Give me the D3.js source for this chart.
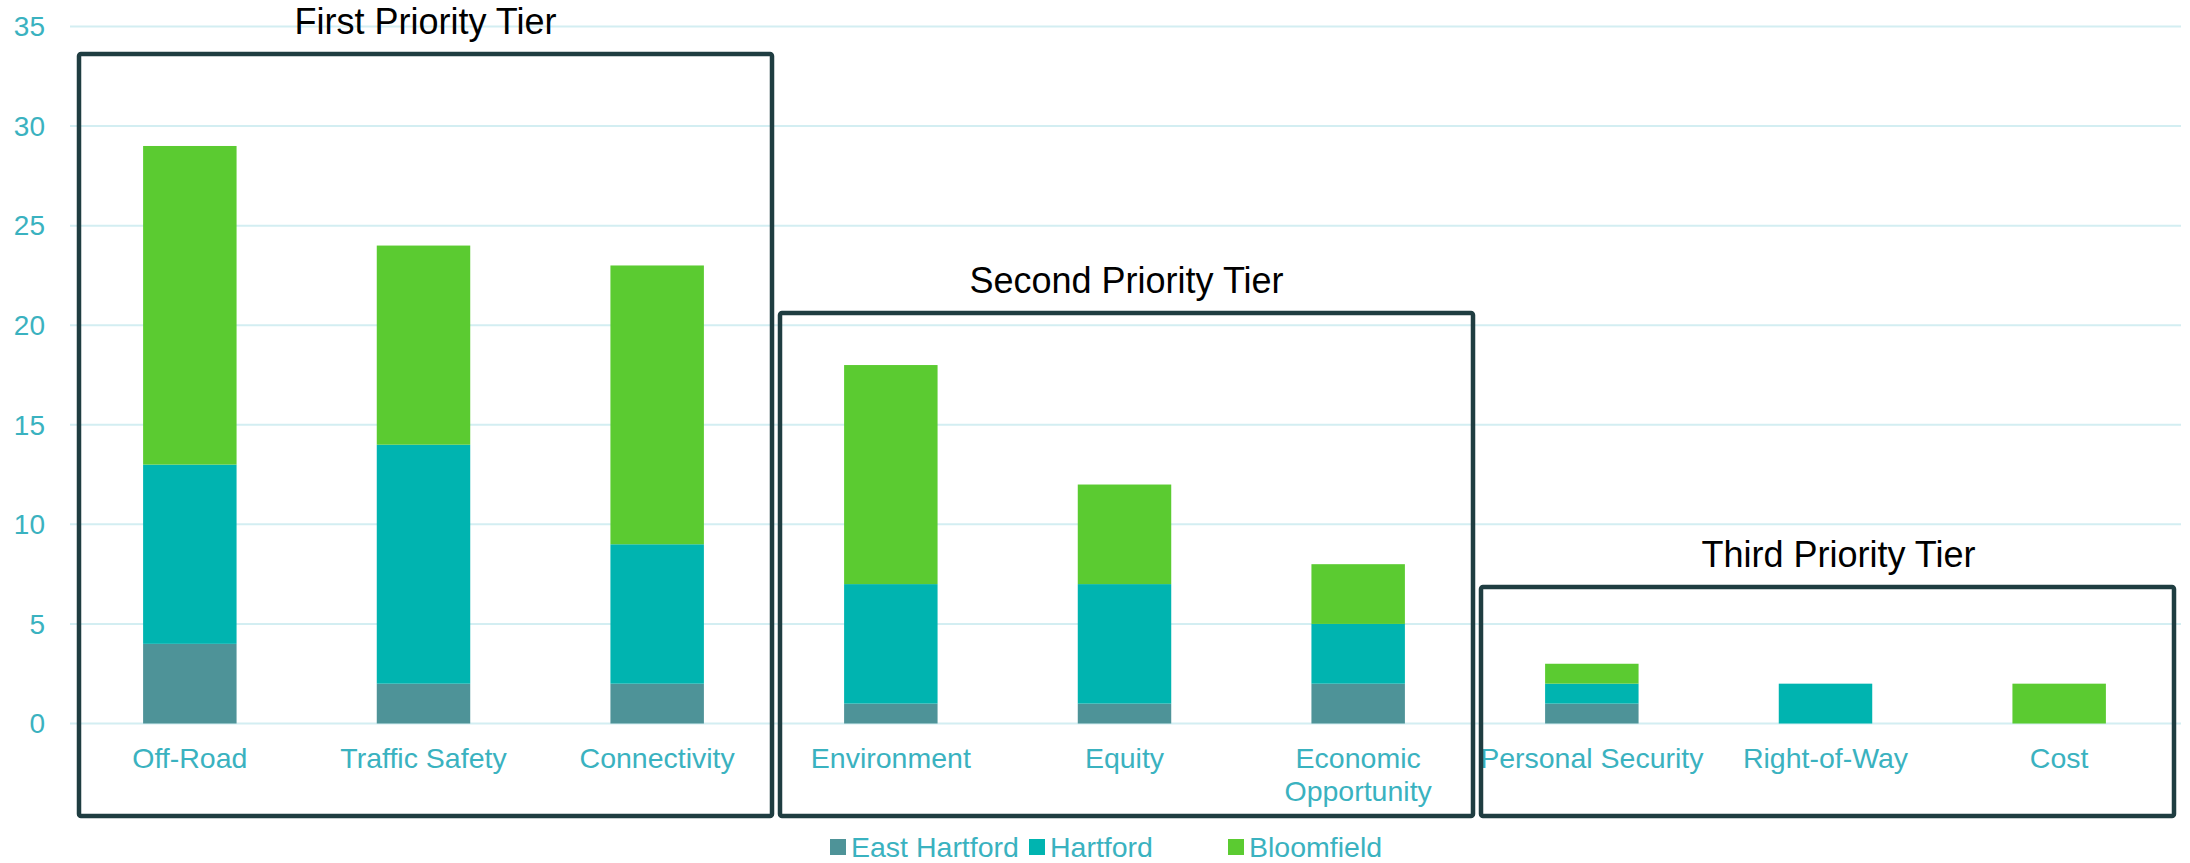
<!DOCTYPE html>
<html>
<head>
<meta charset="utf-8">
<script src="https://cdn.jsdelivr.net/npm/d3@7"></script>
<style>
  html, body { margin: 0; padding: 0; background: #fff; }
  svg { display: block; font-family: "Liberation Sans", Arial, sans-serif; }
</style>
</head>
<body>
<div id="chart"></div>
<script>
// Chart values
var categories = ["Off-Road", "Traffic Safety", "Connectivity", "Environment", "Equity",
  "Economic Opportunity", "Personal Security", "Right-of-Way", "Cost"];
var seriesNames = ["East Hartford", "Hartford", "Bloomfield"];
var eastHartford = [4, 2, 2, 1, 1, 2, 1, 0, 0];
var hartford = [9, 12, 7, 6, 6, 3, 1, 2, 0];
var bloomfield = [16, 10, 14, 11, 5, 3, 1, 0, 2];
var yTicks = [0, 5, 10, 15, 20, 25, 30, 35];
var tierNames = ["First Priority Tier", "Second Priority Tier", "Third Priority Tier"];
var tierCategories = [
  ["Off-Road", "Traffic Safety", "Connectivity"],
  ["Environment", "Equity", "Economic Opportunity"],
  ["Personal Security", "Right-of-Way", "Cost"]
];

var colors = ["#4e9398", "#00b4b0", "#5bcb31"];
var textColor = "#3ab2c0";
var boxColor = "#1f3d41";

var width = 2190, height = 863;
var tierBoxTop = [54, 313, 587], tierBoxBottom = 816;
var tierTitleShift = [2, 2, 13]; // titles are not quite centred over their boxes

var svg = d3.select("#chart").append("svg")
    .attr("width", width)
    .attr("height", height);

var x = d3.scaleBand()
    .domain(categories)
    .range([73, 2176])
    .paddingInner(0.6)
    .paddingOuter(0.3);

var y = d3.scaleLinear()
    .domain([0, 35])
    .range([723.5, 26.5]);

// Gridlines and y labels
svg.append("g").selectAll("line")
    .data(yTicks)
  .enter().append("line")
    .attr("x1", 70)
    .attr("x2", 2181)
    .attr("y1", d => y(d))
    .attr("y2", d => y(d))
    .attr("stroke", "#d3eef2")
    .attr("stroke-width", 2);

svg.append("g").selectAll("text")
    .data(yTicks)
  .enter().append("text")
    .attr("x", 45)
    .attr("y", d => y(d))
    .attr("dy", "0.35em")
    .attr("text-anchor", "end")
    .attr("fill", textColor)
    .style("font-size", "28px")
    .text(d => d);

// Stack the three towns
var rows = categories.map((c, i) => ({
  category: c,
  "East Hartford": eastHartford[i],
  "Hartford": hartford[i],
  "Bloomfield": bloomfield[i]
}));
var stacked = d3.stack().keys(seriesNames)(rows);

svg.append("g").selectAll("g")
    .data(stacked)
  .enter().append("g")
    .attr("fill", (d, i) => colors[i])
  .selectAll("rect")
    .data(d => d.filter(s => s[1] > s[0]))
  .enter().append("rect")
    .attr("x", d => x(d.data.category))
    .attr("width", x.bandwidth())
    .attr("y", d => y(d[1]))
    .attr("height", d => y(d[0]) - y(d[1]));

// Category labels, wrapped onto two lines where needed
var labelLines = {"Economic Opportunity": ["Economic", "Opportunity"]};
svg.append("g").selectAll("text")
    .data(categories)
  .enter().append("text")
    .attr("x", d => x(d) + x.bandwidth() / 2)
    .attr("y", 768)
    .attr("text-anchor", "middle")
    .attr("fill", textColor)
    .style("font-size", "28.5px")
    .each(function(d) {
      var lines = labelLines[d] || [d];
      d3.select(this).selectAll("tspan")
          .data(lines)
        .enter().append("tspan")
          .attr("x", x(d) + x.bandwidth() / 2)
          .attr("dy", (l, i) => i ? 33 : 0)
          .text(l => l);
    });

// Tier boxes with titles
var step = x.step(), gap = (step - x.bandwidth()) / 2;
var tiers = svg.append("g").selectAll("g")
    .data(tierNames)
  .enter().append("g");

tiers.append("rect")
    .attr("x", (d, i) => x(tierCategories[i][0]) - gap + 6)
    .attr("y", (d, i) => tierBoxTop[i])
    .attr("width", (d, i) => x(tierCategories[i][2]) - x(tierCategories[i][0]) + x.bandwidth() + 2 * gap - 8)
    .attr("height", (d, i) => tierBoxBottom - tierBoxTop[i])
    .attr("fill", "none")
    .attr("stroke", boxColor)
    .attr("stroke-width", 4.5)
    .attr("rx", 2);

tiers.append("text")
    .attr("x", (d, i) => (x(tierCategories[i][0]) + x(tierCategories[i][2]) + x.bandwidth()) / 2 + tierTitleShift[i])
    .attr("y", (d, i) => tierBoxTop[i] - 20)
    .attr("text-anchor", "middle")
    .attr("fill", "#000")
    .style("font-size", "36px")
    .text(d => d);

// Legend
var legendX = [830, 1029, 1228];
var legend = svg.append("g").selectAll("g")
    .data(seriesNames)
  .enter().append("g")
    .attr("transform", (d, i) => "translate(" + legendX[i] + ",847)");

legend.append("rect")
    .attr("x", 0)
    .attr("y", -8)
    .attr("width", 16)
    .attr("height", 16)
    .attr("fill", (d, i) => colors[i]);

legend.append("text")
    .attr("x", 21)
    .attr("y", 0)
    .attr("dy", "0.35em")
    .attr("fill", textColor)
    .style("font-size", "28.5px")
    .text(d => d);
</script>
</body>
</html>
